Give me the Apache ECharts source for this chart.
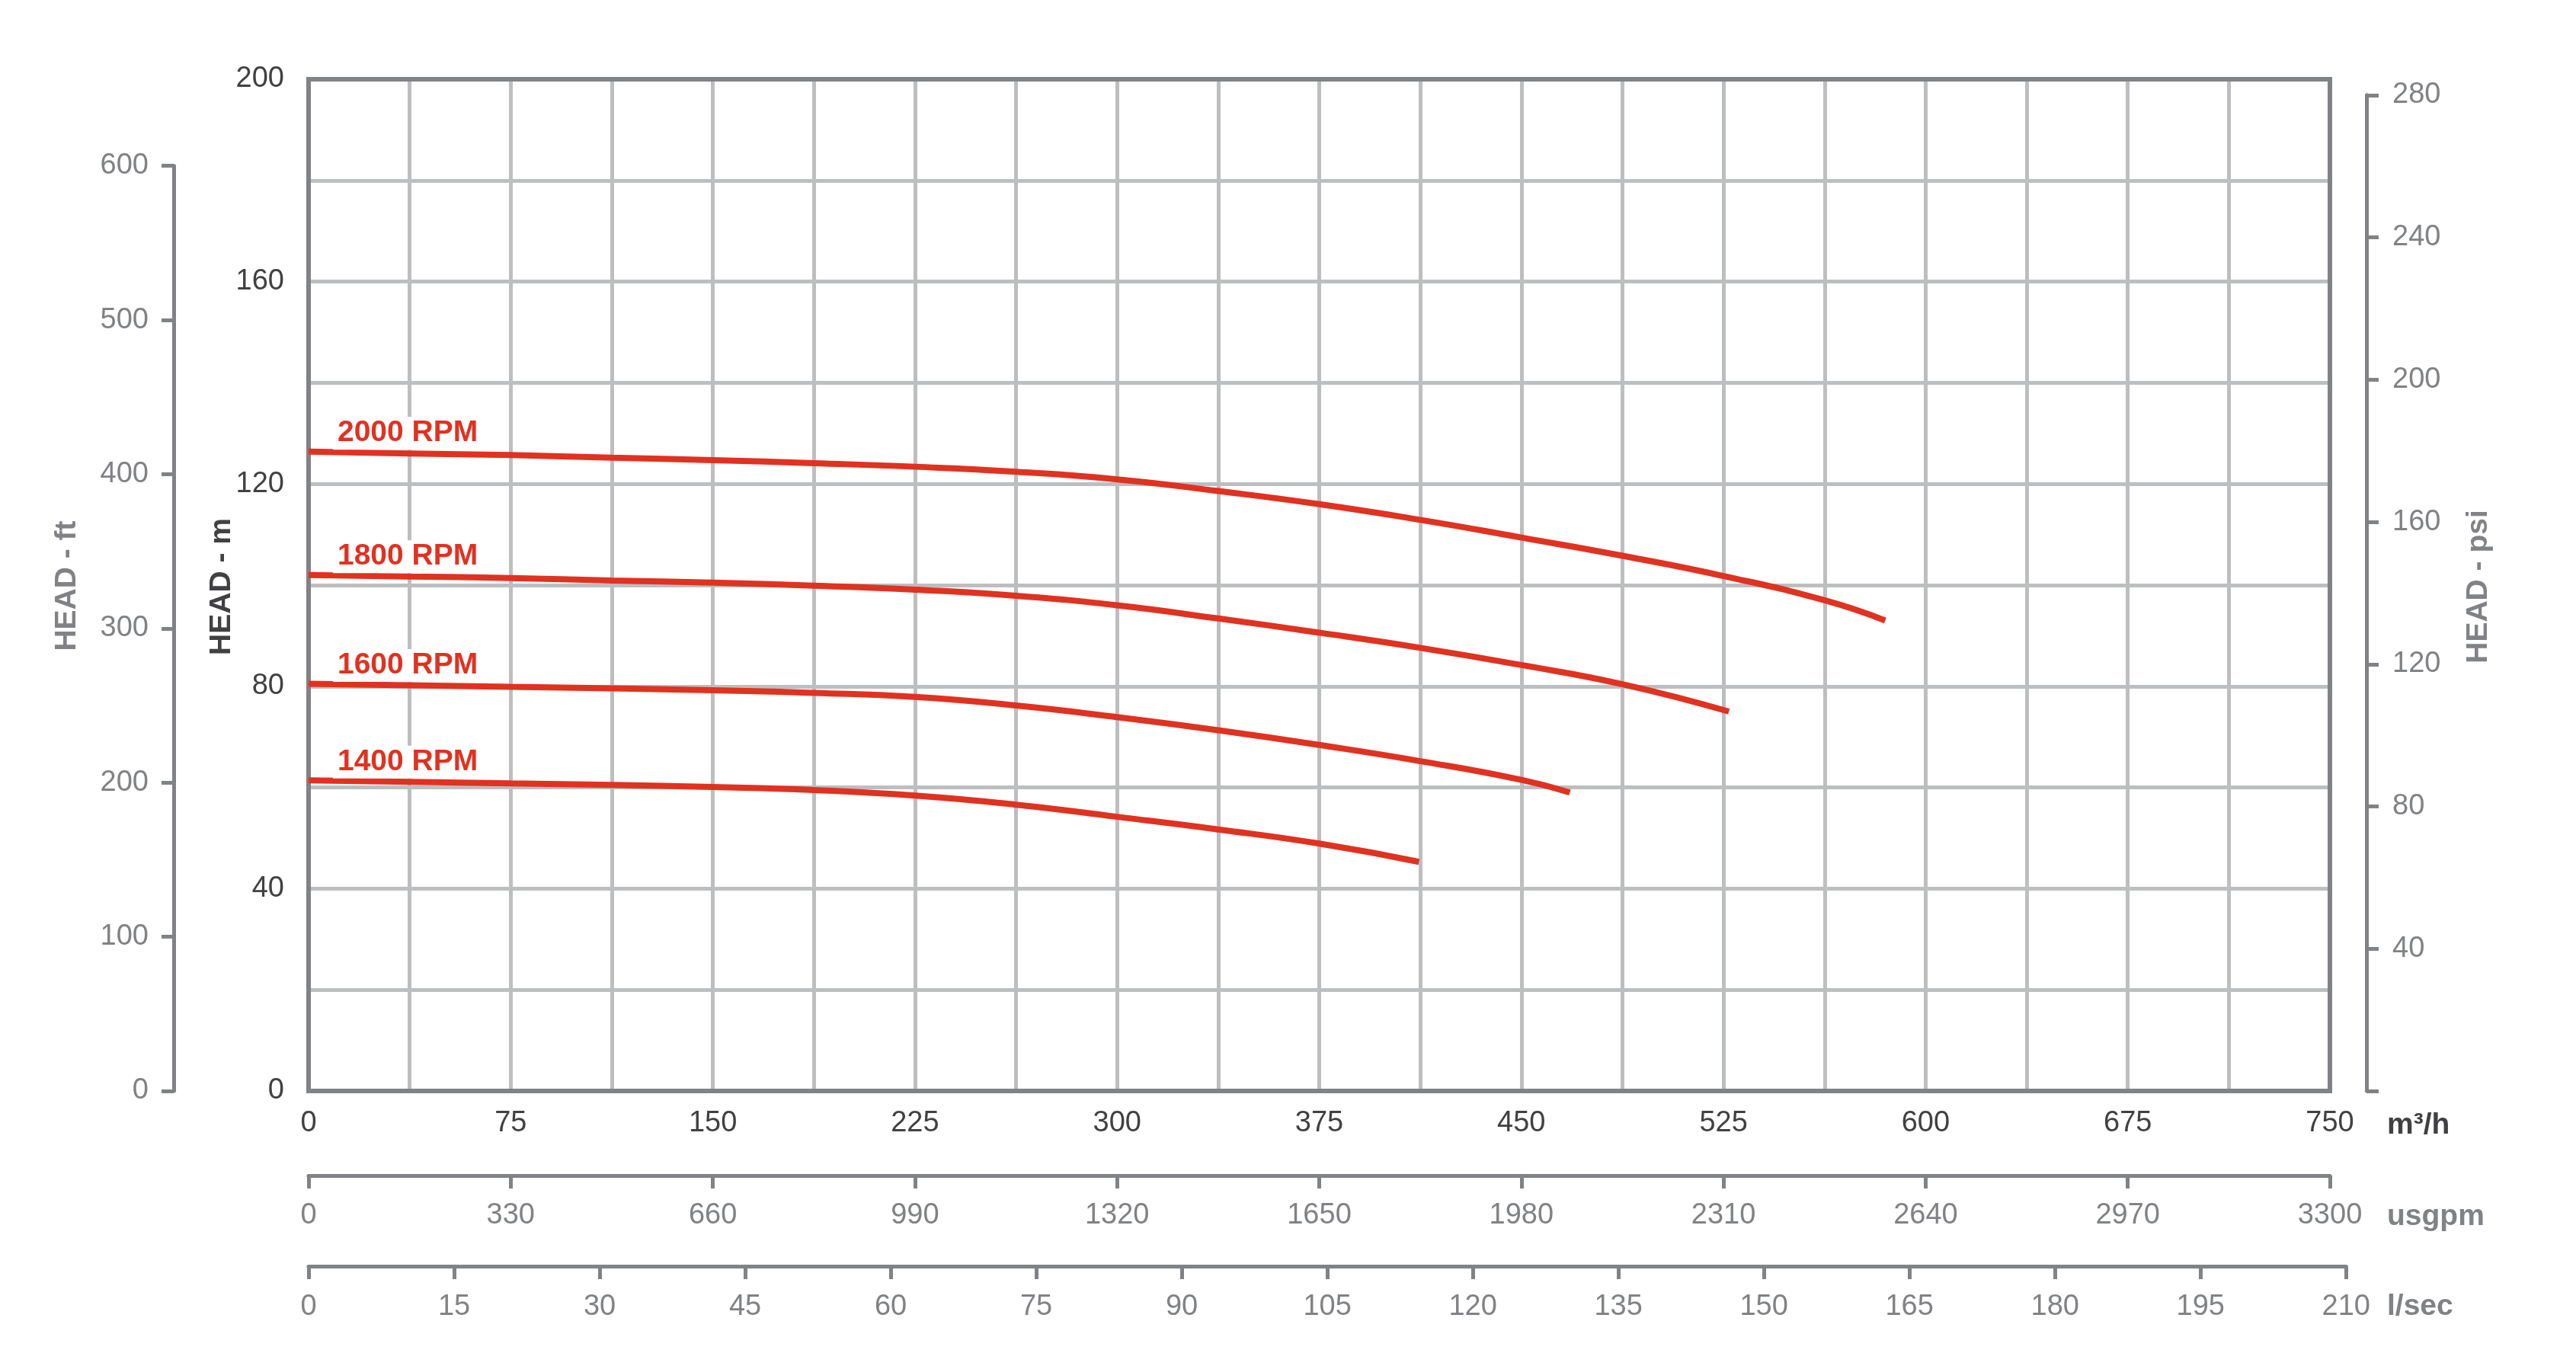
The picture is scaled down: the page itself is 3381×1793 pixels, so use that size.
<!DOCTYPE html>
<html>
<head>
<meta charset="utf-8">
<script src="https://cdn.jsdelivr.net/npm/echarts@6/dist/echarts.min.js"></script>
<style>
html,body{margin:0;padding:0;background:#fff;}
#chart{width:3381px;height:1793px;}
</style>
</head>
<body>
<div id="chart"></div>
<script>
// ---- data (flow in m³/h, head in m) ----
const speeds = ['2000 RPM', '1800 RPM', '1600 RPM', '1400 RPM'];
const flow2000 = [0, 37.5, 75, 112.5, 150, 187.5, 225, 262.5, 300, 337.5, 375, 412.5, 450, 487.5, 525, 562.5, 585];
const head2000 = [126.4, 126.0, 125.7, 125.2, 124.7, 124.1, 123.4, 122.4, 120.9, 118.6, 116.0, 112.9, 109.4, 105.8, 101.8, 97.0, 93.0];
const flow1800 = [0, 37.5, 75, 112.5, 150, 187.5, 225, 262.5, 300, 337.5, 375, 412.5, 450, 487.5, 527];
const head1800 = [102.0, 101.7, 101.4, 100.9, 100.5, 99.9, 99.1, 97.9, 96.0, 93.4, 90.6, 87.6, 84.2, 80.4, 75.0];
const flow1600 = [0, 37.5, 75, 112.5, 150, 187.5, 225, 262.5, 300, 337.5, 375, 412.5, 450, 468];
const head1600 = [80.5, 80.2, 79.9, 79.6, 79.2, 78.7, 77.9, 76.2, 73.9, 71.3, 68.4, 65.2, 61.5, 59.0];
const flow1400 = [0, 37.5, 75, 112.5, 150, 187.5, 225, 262.5, 300, 337.5, 375, 412];
const head1400 = [61.4, 61.1, 60.8, 60.5, 60.1, 59.5, 58.4, 56.6, 54.2, 51.7, 48.9, 45.3];

// axis ranges / tick steps
const flowMax = 750, flowStep = 37.5, flowLabelStep = 75;
const headMax = 200, headStep = 20, headLabelStep = 40;
const ftMax = 600, ftStep = 100;
const psiMax = 280, psiStep = 40;
const gpmMax = 3300, gpmStep = 330;
const lsMax = 210, lsStep = 15;
const axisTitles = { ft: 'HEAD - ft', m: 'HEAD - m', psi: 'HEAD - psi', q: 'm³/h', gpm: 'usgpm', ls: 'l/sec' };

// ---- layout ----
const W = 3381, H = 1793;
const pL = 405, pR = 3058, pT = 104, pB = 1432;
const pxPerM = (pB - pT) / headMax;
const ftTop = pB - ftMax * 0.3048 * pxPerM;
const psiTop = pB - psiMax * 0.703070 * pxPerM;
const lsRight = pL + (lsMax * 3.6) / flowMax * (pR - pL);

const DARK = '#414042', GREY = '#808285', GRIDC = '#bcbec0', RED = '#e03221';
const FONT = '"Liberation Sans", Arial, Helvetica, sans-serif';

function mk(fl, hd) { return fl.map((q, i) => [q, hd[i]]); }
const curves = [mk(flow2000, head2000), mk(flow1800, head1800), mk(flow1600, head1600), mk(flow1400, head1400)];

const series = curves.map((pts, k) => ({
  type: 'line',
  name: speeds[k],
  xAxisIndex: 0, yAxisIndex: 0,
  smooth: 0.5,
  symbol: 'circle',
  symbolSize: 0.1,
  showSymbol: true,
  showAllSymbol: true,
  lineStyle: { color: RED, width: 8, cap: 'butt' },
  itemStyle: { color: RED },
  z: 5,
  silent: true,
  data: pts.map((p, i) => i === 0 ? {
    value: p,
    label: {
      show: true,
      formatter: speeds[k],
      position: [32, -24],
      align: 'left',
      verticalAlign: 'middle',
      color: RED,
      fontFamily: FONT,
      fontWeight: 'bold',
      fontSize: 39,
      backgroundColor: '#ffffff',
      padding: [2, 6, 2, 6]
    }
  } : { value: p, label: { show: false } })
}));

const chart = echarts.init(document.getElementById('chart'), null, { renderer: 'canvas', width: W, height: H });

const titleStyle = (txt, color) => ({ text: txt, fill: color, font: 'bold 39px ' + FONT, textAlign: 'center', textVerticalAlign: 'middle' });

const hiddenAxis = (gi) => ({ gridIndex: gi, type: 'value', show: false, min: 0, max: 1,
  axisLine: { show: false }, axisTick: { show: false }, axisLabel: { show: false }, splitLine: { show: false } });

const plain = v => String(v);

chart.setOption({
  backgroundColor: '#ffffff',
  animation: false,
  grid: [
    { left: pL, top: pT, width: pR - pL, height: pB - pT, show: true, borderColor: GREY, borderWidth: 6, backgroundColor: 'transparent', z: 3 },
    { left: 228, top: ftTop, width: 1, height: pB - ftTop },
    { left: 3106, top: psiTop, width: 1, height: pB - psiTop },
    { left: pL, top: 1542, width: pR - pL, height: 1 },
    { left: pL, top: 1661, width: lsRight - pL, height: 1 }
  ],
  xAxis: [
    { gridIndex: 0, type: 'value', min: 0, max: flowMax, interval: flowStep,
      axisLine: { show: false }, axisTick: { show: false },
      splitLine: { show: true, showMinLine: false, showMaxLine: false, lineStyle: { color: GRIDC, width: 5 } },
      axisLabel: { margin: 24, color: DARK, fontSize: 38, fontFamily: FONT,
        formatter: v => (Math.abs(v / flowLabelStep - Math.round(v / flowLabelStep)) < 1e-6) ? String(v) : '' } },
    hiddenAxis(1),
    hiddenAxis(2),
    { gridIndex: 3, type: 'value', min: 0, max: gpmMax, interval: gpmStep, position: 'bottom',
      axisLine: { show: true, lineStyle: { color: GREY, width: 5 } },
      axisTick: { show: true, length: 17, lineStyle: { color: GREY, width: 5 } },
      splitLine: { show: false },
      axisLabel: { margin: 34, color: GREY, fontSize: 38, fontFamily: FONT, formatter: plain } },
    { gridIndex: 4, type: 'value', min: 0, max: lsMax, interval: lsStep, position: 'bottom',
      axisLine: { show: true, lineStyle: { color: GREY, width: 5 } },
      axisTick: { show: true, length: 17, lineStyle: { color: GREY, width: 5 } },
      splitLine: { show: false },
      axisLabel: { margin: 35, color: GREY, fontSize: 38, fontFamily: FONT, formatter: plain } }
  ],
  yAxis: [
    { gridIndex: 0, type: 'value', min: 0, max: headMax, interval: headStep,
      axisLine: { show: false }, axisTick: { show: false },
      splitLine: { show: true, showMinLine: false, showMaxLine: false, lineStyle: { color: GRIDC, width: 5 } },
      axisLabel: { margin: 32, color: DARK, fontSize: 38, fontFamily: FONT,
        formatter: v => (v % headLabelStep === 0) ? String(v) : '' } },
    { gridIndex: 1, type: 'value', min: 0, max: ftMax, interval: ftStep, position: 'left',
      axisLine: { show: true, lineStyle: { color: GREY, width: 5 } },
      axisTick: { show: true, length: 16, lineStyle: { color: GREY, width: 5 } },
      splitLine: { show: false },
      axisLabel: { margin: 33, color: GREY, fontSize: 38, fontFamily: FONT, formatter: plain } },
    { gridIndex: 2, type: 'value', min: 0, max: psiMax, interval: psiStep, position: 'right',
      axisLine: { show: true, lineStyle: { color: GREY, width: 5 } },
      axisTick: { show: true, length: 16, lineStyle: { color: GREY, width: 5 } },
      splitLine: { show: false },
      axisLabel: { margin: 33, color: GREY, fontSize: 38, fontFamily: FONT,
        formatter: v => v === 0 ? '' : String(v) } },
    hiddenAxis(3),
    hiddenAxis(4)
  ],
  graphic: [
    { type: 'text', x: 88, y: 769, rotation: Math.PI / 2, style: titleStyle(axisTitles.ft, GREY) },
    { type: 'text', x: 291, y: 770, rotation: Math.PI / 2, style: titleStyle(axisTitles.m, DARK) },
    { type: 'text', x: 3253, y: 770, rotation: Math.PI / 2, style: titleStyle(axisTitles.psi, GREY) },
    { type: 'text', x: 3133, y: 1477, style: Object.assign(titleStyle(axisTitles.q, DARK), { textAlign: 'left' }) },
    { type: 'text', x: 3133, y: 1597, style: Object.assign(titleStyle(axisTitles.gpm, GREY), { textAlign: 'left' }) },
    { type: 'text', x: 3133, y: 1715, style: Object.assign(titleStyle(axisTitles.ls, GREY), { textAlign: 'left' }) }
  ],
  series: series
});
</script>
</body>
</html>
